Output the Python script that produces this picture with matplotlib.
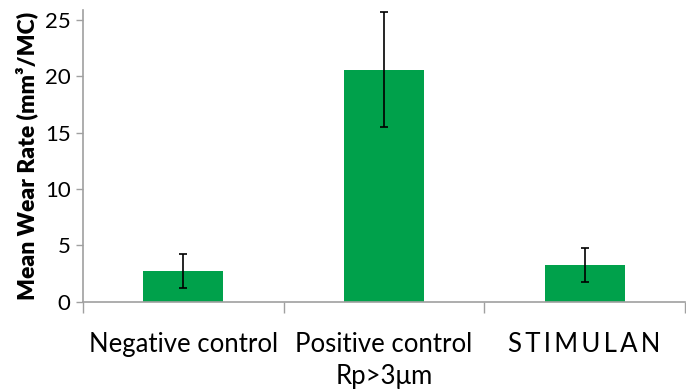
import matplotlib
matplotlib.use('Agg')
import matplotlib.pyplot as plt
import numpy as np

categories = ['Negative control', 'Positive control\nRp>3μm', '\u2009'.join('STIMULAN')]
wear_rate = [2.72, 20.6, 3.25]
wear_err = [1.5, 5.1, 1.5]

plt.rcParams['font.family'] = ['Lato', 'DejaVu Sans']

fig = plt.figure(figsize=(6.86, 3.89), dpi=100)
ax = fig.add_axes([83/686, (389-301.7)/389, 602/686, (301.7-10)/389])

x = np.arange(len(categories))
ax.bar(x, wear_rate, width=0.4, color='#00A14B', zorder=2)
ax.errorbar(x, wear_rate, yerr=wear_err, fmt='none', ecolor='black',
            elinewidth=1.2, capsize=3, capthick=1.2, zorder=3)

ax.set_xlim(-0.5, len(categories) - 0.5)
ax.set_ylim(0, 25.9)
ax.set_yticks([0, 5, 10, 15, 20, 25])

# category labels centred, tick marks on the boundaries
ax.set_xticks(x)
ax.set_xticklabels(categories, fontsize=18.5, linespacing=1.35)
ax.tick_params(axis='x', length=0, pad=22)
ax.set_xticks(np.arange(-0.5, len(categories), 1.0), minor=True)
ax.tick_params(axis='x', which='minor', length=8, color='#A0A0A0', width=1)
ax.tick_params(axis='y', labelsize=16, length=5, color='#A0A0A0', width=1, pad=4)

for s in ['top', 'right']:
    ax.spines[s].set_visible(False)
for s in ['left', 'bottom']:
    ax.spines[s].set_color('#A0A0A0')
    ax.spines[s].set_linewidth(1.2)

ax.set_ylabel('Mean Wear Rate (mm³/MC)', fontsize=16.5, fontweight='heavy', labelpad=5)

fig.savefig('out.png', dpi=100)
